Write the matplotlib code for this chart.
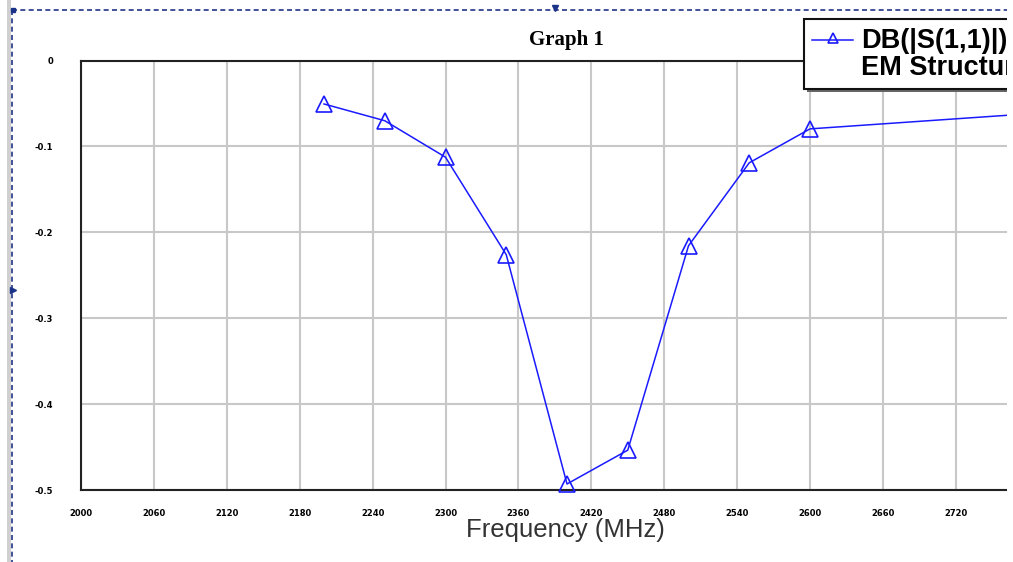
import matplotlib
matplotlib.use("Agg")
import matplotlib.pyplot as plt
from matplotlib.patches import Rectangle
from matplotlib.lines import Line2D

# S11 readout (MHz, dB)
freq = [2200, 2250, 2300, 2350, 2400, 2450, 2500, 2550, 2600, 2800]
s11_db = [-0.0505, -0.070, -0.1125, -0.226, -0.493, -0.4536, -0.2156, -0.119, -0.0795, -0.060]

x_ticks = [2000, 2060, 2120, 2180, 2240, 2300, 2360, 2420, 2480, 2540, 2600, 2660, 2720]
y_ticks = [0, -0.1, -0.2, -0.3, -0.4, -0.5]
y_labels = ["0", "-0.1", "-0.2", "-0.3", "-0.4", "-0.5"]

W, H = 1013, 562
fig = plt.figure(figsize=(W / 100, H / 100), dpi=100)
fig.patch.set_facecolor("white")


def fx(px):
    return px / W


def fy(py):
    return 1 - py / H


# axes extends past the right edge, picture is cropped there
ax = fig.add_axes([fx(81), fy(490), fx(1053) - fx(81), fy(60.6) - fy(490)])
ax.set_xlim(2000, 2800)
ax.set_ylim(-0.5, 0)

blue = "#1a1aff"
ax.plot(freq, s11_db, color=blue, lw=1.1, marker="^", markersize=11,
        markerfacecolor="none", markeredgecolor=blue, markeredgewidth=1.2,
        clip_on=False, zorder=3)

ax.set_xticks(x_ticks)
ax.set_xticklabels([str(t) for t in x_ticks])
ax.set_yticks(y_ticks)
ax.set_yticklabels(y_labels)
ax.grid(True, color="#c8c8c8", lw=1.5)
ax.tick_params(length=0, labelsize=6)
ax.tick_params(axis="x", pad=14)
ax.tick_params(axis="y", pad=20)
for lab in ax.get_xticklabels() + ax.get_yticklabels():
    lab.set_fontweight("bold")

for s in ["left", "top", "bottom"]:
    ax.spines[s].set_linewidth(1.5)
    ax.spines[s].set_color("#222222")
ax.spines["right"].set_visible(False)

ax.set_xlabel("Frequency (MHz)", fontsize=18.5, family="Liberation Sans", color="#333333")
ax.xaxis.set_label_coords((565 - 81) / 972, (490 - 530) / 429.4)
ax.xaxis.label.set_va("center")

fig.text(fx(566), fy(40), "Graph 1", family="Liberation Serif", fontweight="bold",
         fontsize=15, ha="center", va="center")

# legend box (cropped on the right like the reference)
fig.patches.append(Rectangle((fx(807), fy(92)), fx(1100) - fx(807), fy(22) - fy(92),
                             transform=fig.transFigure, facecolor="#666666",
                             edgecolor="none", zorder=5))
fig.patches.append(Rectangle((fx(804), fy(89)), fx(1100) - fx(804), fy(19) - fy(89),
                             transform=fig.transFigure, facecolor="white",
                             edgecolor="#111111", lw=1.5, zorder=6))
fig.lines.append(Line2D([fx(812), fx(853)], [fy(40), fy(40)], transform=fig.transFigure,
                        color=blue, lw=1.1, zorder=7))
fig.lines.append(Line2D([fx(833)], [fy(37.5)], transform=fig.transFigure, color=blue,
                        marker="^", markersize=7, markerfacecolor="none",
                        markeredgewidth=1.2, zorder=7))
fig.text(fx(861), fy(41), "DB(|S(1,1)|)", family="Liberation Sans", fontsize=19.5,
         fontweight="bold", va="center", ha="left", zorder=8)
fig.text(fx(861), fy(68), "EM Structure 1", family="Liberation Sans", fontsize=19.5,
         fontweight="bold", va="center", ha="left", zorder=8)

# white strip where the screenshot was cut
fig.patches.append(Rectangle((fx(1007), 0), 1, 1, transform=fig.transFigure,
                             facecolor="white", edgecolor="none", zorder=20))

# window frame decoration
fig.patches.append(Rectangle((fx(7), 0), fx(4), 1, transform=fig.transFigure,
                             facecolor="#d0d0d0", edgecolor="none", zorder=9))
fig.lines.append(Line2D([fx(12), fx(12)], [fy(10), 0], transform=fig.transFigure,
                        color="#223388", lw=1.2, ls=(0, (3, 2)), zorder=10))
fig.lines.append(Line2D([fx(12), fx(1007)], [fy(10), fy(10)], transform=fig.transFigure,
                        color="#223388", lw=1.2, ls=(0, (3, 2)), zorder=10))
fig.lines.append(Line2D([fx(13)], [fy(10)], transform=fig.transFigure, color="#1a3388",
                        marker="s", markersize=3, zorder=11))
fig.lines.append(Line2D([fx(555)], [fy(8)], transform=fig.transFigure, color="#1a3388",
                        marker="v", markersize=4, zorder=11))
fig.lines.append(Line2D([fx(13)], [fy(290)], transform=fig.transFigure, color="#1a3388",
                        marker=">", markersize=4, zorder=11))

fig.savefig("out.png", dpi=100, facecolor="white")
